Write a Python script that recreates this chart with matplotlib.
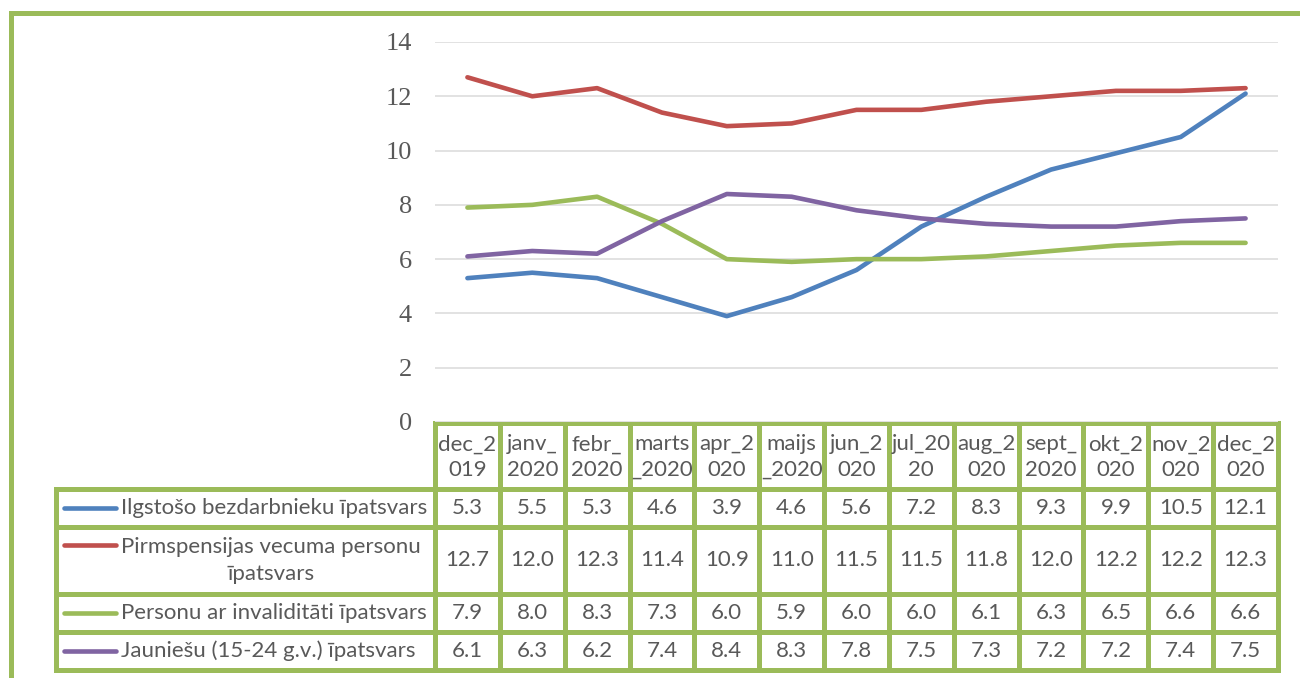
import matplotlib.pyplot as plt

# table header labels (already wrapped the way the cells show them)
months = ["dec_2\n019", "janv_\n2020", "febr_\n2020", "marts\n_2020", "apr_2\n020",
          "maijs\n_2020", "jun_2\n020", "jul_20\n20", "aug_2\n020", "sept_\n2020",
          "okt_2\n020", "nov_2\n020", "dec_2\n020"]

names = ["Ilgstošo bezdarbnieku īpatsvars",
         "Pirmspensijas vecuma personu\nīpatsvars",
         "Personu ar invaliditāti īpatsvars",
         "Jauniešu (15-24 g.v.) īpatsvars"]

long_term = [5.3, 5.5, 5.3, 4.6, 3.9, 4.6, 5.6, 7.2, 8.3, 9.3, 9.9, 10.5, 12.1]
pre_pension = [12.7, 12.0, 12.3, 11.4, 10.9, 11.0, 11.5, 11.5, 11.8, 12.0, 12.2, 12.2, 12.3]
disabled = [7.9, 8.0, 8.3, 7.3, 6.0, 5.9, 6.0, 6.0, 6.1, 6.3, 6.5, 6.6, 6.6]
youth = [6.1, 6.3, 6.2, 7.4, 8.4, 8.3, 7.8, 7.5, 7.3, 7.2, 7.2, 7.4, 7.5]

series = [long_term, pre_pension, disabled, youth]
colors = ["#4F81BD", "#C0504D", "#9BBB59", "#8064A2"]
yticks = [0, 2, 4, 6, 8, 10, 12, 14]

W, H = 1300, 678
GREEN = "#9BBB59"
GREY = "#595959"
PX = 0.72  # points per pixel at 100 dpi

fig = plt.figure(figsize=(W / 100, H / 100), dpi=100)

# background axes in pixel coordinates for frame and table
bg = fig.add_axes([0, 0, 1, 1])
bg.set_xlim(0, W)
bg.set_ylim(H, 0)
bg.axis("off")

# outer frame (left + top)
bg.plot([11, 11, W], [H, 13, 13], color=GREEN, lw=5 * PX, solid_joinstyle="miter")

# line chart
x0, x1, y_top, y_bot = 435, 1278, 42, 422
ax = fig.add_axes([x0 / W, 1 - y_bot / H, (x1 - x0) / W, (y_bot - y_top) / H])
ax.set_xlim(-0.5, len(months) - 0.5)
ax.set_ylim(0, 14)
ax.set_yticks(yticks)
ax.set_xticks([])
for s in ax.spines.values():
    s.set_visible(False)
ax.yaxis.grid(True, color="#D9D9D9", lw=1.5 * PX)
ax.set_axisbelow(True)
ax.tick_params(axis="y", length=0, pad=23 * PX, labelcolor=GREY)
for lab in ax.get_yticklabels():
    lab.set_family("Liberation Serif")
    lab.set_fontsize(19)
for vals, c in zip(series, colors):
    ax.plot(range(len(vals)), vals, color=c, lw=4.6 * PX, solid_capstyle="round",
            solid_joinstyle="round", zorder=3)

# data table
cw = (x1 - x0) / len(months)
col_edges = [x0 + i * cw for i in range(len(months) + 1)]
row_edges = [423, 489, 527, 594, 632, 670]
lab_left = 56
font = dict(family=["Lato", "DejaVu Sans"], fontsize=16, color=GREY)
blw = 5 * PX

bg.plot([x0, x1], [row_edges[0]] * 2, color=GREEN, lw=blw, solid_capstyle="projecting")
for y in row_edges[1:]:
    bg.plot([lab_left, x1], [y, y], color=GREEN, lw=blw, solid_capstyle="projecting")
bg.plot([lab_left] * 2, [row_edges[1], row_edges[-1]], color=GREEN, lw=blw,
        solid_capstyle="projecting")
for x in col_edges:
    bg.plot([x, x], [row_edges[0], row_edges[-1]], color=GREEN, lw=blw,
            solid_capstyle="projecting")

hy = (row_edges[0] + row_edges[1]) / 2 + 1
for i, m in enumerate(months):
    bg.text(x0 + (i + 0.5) * cw, hy, m, ha="center", va="center",
            linespacing=1.35, **font)

for r, (name, vals, c) in enumerate(zip(names, series, colors)):
    top, bot = row_edges[r + 1], row_edges[r + 2]
    cy = (top + bot) / 2
    key_y = cy if "\n" not in name else top + 18
    bg.plot([64, 116], [key_y, key_y], color=c, lw=4.6 * PX, solid_capstyle="round")
    bg.text(121, cy, name, ha="left", va="center", multialignment="center",
            linespacing=1.4, **font)
    for i, v in enumerate(vals):
        bg.text(x0 + (i + 0.5) * cw, cy, f"{v:.1f}", ha="center", va="center", **font)

fig.savefig("out.png", dpi=100)
